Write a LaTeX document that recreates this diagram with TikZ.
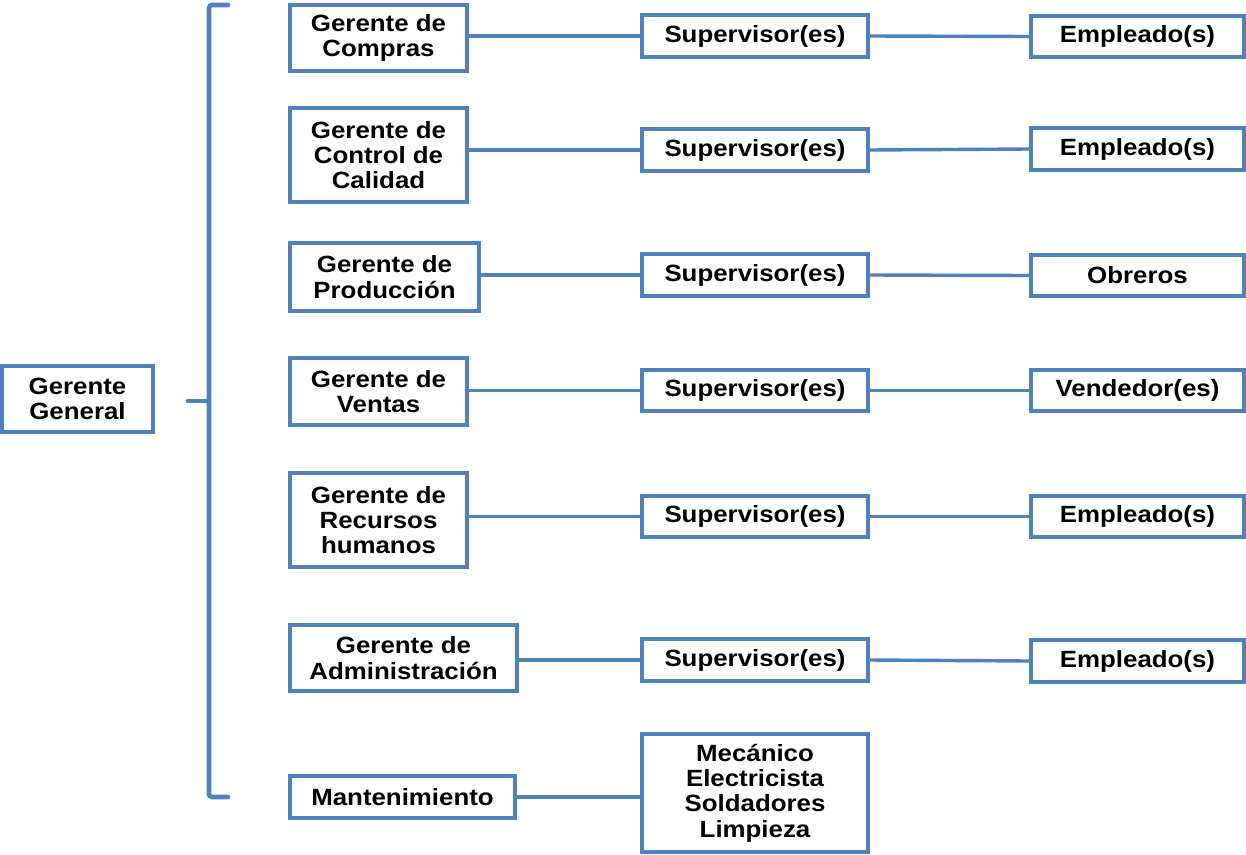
\documentclass[tikz,border=0pt]{standalone}
\usepackage{fontspec}
\setmainfont[FakeStretch=1.1]{Liberation Sans}
\definecolor{boxblue}{HTML}{4F81BD}
\tikzset{
  box/.style={draw=boxblue, line width=3.2pt, fill=white, align=center,
    font=\fontsize{23.5}{25.3}\selectfont\bfseries, inner sep=0pt},
  link/.style={draw=boxblue, line width=3.4pt},
  brace/.style={draw=boxblue, line width=4.6pt, line cap=round, rounded corners=3pt}
}
\begin{document}
\begin{tikzpicture}[x=1pt,y=-1pt]
\useasboundingbox (0,0) rectangle (1246,854);
% root
\node[box, minimum width=151pt, minimum height=66pt] (gg) at (77.5,399) {Gerente\\General};
% bracket
\coordinate (bt) at (228,5);
\coordinate (bb) at (228,797);
\coordinate (bm) at (188,401);
\draw[brace] (bt) -- (209,5) -- (209,797) -- (bb);
\draw[brace, rounded corners=0pt] (bm) -- (209,401);
% column 1
\node[box, minimum width=177pt, minimum height=66pt] (c1) at (378.5,38) {Gerente de\\Compras};
\node[box, minimum width=177pt, minimum height=94pt] (c2) at (378.5,155) {Gerente de\\Control de\\Calidad};
\node[box, minimum width=189pt, minimum height=68pt] (c3) at (384.5,277) {Gerente de\\Producción};
\node[box, minimum width=177pt, minimum height=67pt] (c4) at (378.5,391.5) {Gerente de\\Ventas};
\node[box, minimum width=177pt, minimum height=94pt] (c5) at (378.5,520) {Gerente de\\Recursos\\humanos};
\node[box, minimum width=227pt, minimum height=66pt] (c6) at (403.5,658) {Gerente de\\Administración};
\node[box, minimum width=225pt, minimum height=42pt] (c7) at (402.5,797) {Mantenimiento};
% column 2
\node[box, minimum width=226pt, minimum height=42pt] (s1) at (755,36) {Supervisor(es)};
\node[box, minimum width=226pt, minimum height=42pt] (s2) at (755,150) {Supervisor(es)};
\node[box, minimum width=226pt, minimum height=42pt] (s3) at (755,275) {Supervisor(es)};
\node[box, minimum width=226pt, minimum height=41pt] (s4) at (755,390.5) {Supervisor(es)};
\node[box, minimum width=226pt, minimum height=41pt] (s5) at (755,516.5) {Supervisor(es)};
\node[box, minimum width=226pt, minimum height=42pt] (s6) at (755,660) {Supervisor(es)};
\node[box, minimum width=226pt, minimum height=118pt] (s7) at (755,793) {Mecánico\\Electricista\\Soldadores\\Limpieza};
% column 3
\node[box, minimum width=213pt, minimum height=41pt] (e1) at (1137.5,36.5) {Empleado(s)};
\node[box, minimum width=213pt, minimum height=42pt] (e2) at (1137.5,149) {Empleado(s)};
\node[box, minimum width=213pt, minimum height=41pt] (e3) at (1137.5,275.5) {Obreros};
\node[box, minimum width=213pt, minimum height=41pt] (e4) at (1137.5,390.5) {Vendedor(es)};
\node[box, minimum width=213pt, minimum height=41pt] (e5) at (1137.5,516.5) {Empleado(s)};
\node[box, minimum width=213pt, minimum height=42pt] (e6) at (1137.5,661) {Empleado(s)};
% links
\foreach \i in {1,...,6} {
  \draw[link] (c\i.east |- s\i.west) -- (s\i.west);
  \draw[link] (s\i.east) -- (e\i.west -| e\i.west);
}
\draw[link] (c7.east) -- (s7.west |- c7.east);
\end{tikzpicture}
\end{document}
